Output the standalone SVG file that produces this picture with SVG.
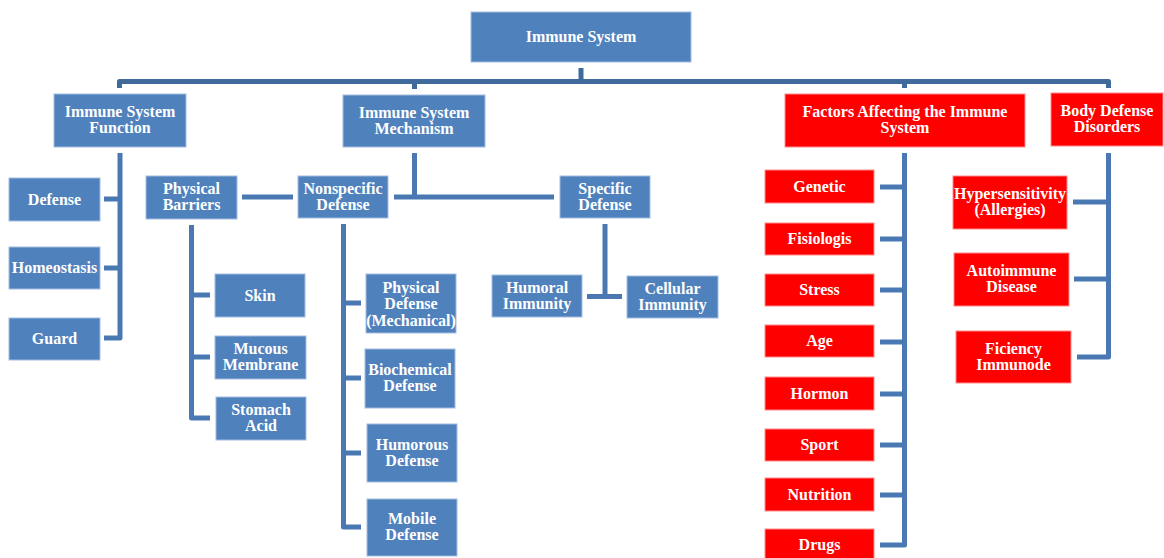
<svg xmlns="http://www.w3.org/2000/svg" width="1164" height="558" viewBox="0 0 1164 558">
<style>
.b{fill:#4f81bd;stroke:#a3bde0;stroke-width:1}
.r{fill:#ff0000;stroke:#ff8a8a;stroke-width:1}
text{font-family:"Liberation Serif","Times New Roman",serif;font-weight:bold;font-size:16px;fill:#ffffff;text-anchor:middle}
.c{fill:none;stroke:#4a78b3;stroke-width:5;stroke-linejoin:round}
.t{fill:none;stroke:#416a9c;stroke-width:5;stroke-linejoin:round}
</style>
<rect width="1164" height="558" fill="#ffffff"/>
<g id="connectors">
<path class="t" d="M581,68 V81.5 M119.5,88 V81.5 H1108.5 V88 M414.5,81.5 V89 M904.5,81.5 V88"/>
<path class="c" d="M120,153 V338 H104 M104,199 H120 M104,268 H120"/>
<path class="c" d="M414.5,153 V197 H394 M414.5,197 H554"/>
<path class="c" d="M242,197 H293"/>
<path class="c" d="M191.5,225 V418 H210 M191.5,295 H210 M191.5,357 H210"/>
<path class="c" d="M343.5,224 V527 H361 M343.5,303 H361 M343.5,378 H361 M343.5,453 H361"/>
<path class="c" d="M605,224 V296.5 M587,296.5 H622"/>
<path class="c" d="M904.5,153 V545 H880 M880,187 H904.5 M880,239 H904.5 M880,290 H904.5 M880,342 H904.5 M880,394 H904.5 M880,445 H904.5 M880,495 H904.5"/>
<path class="c" d="M1108.5,153 V357 H1077 M1073,202 H1108.5 M1074,279 H1108.5"/>
</g>
<g id="n-immune"><rect class="b" x="471" y="12" width="220" height="50"/><text x="581" y="42">Immune System</text></g>
<g id="n-function"><rect class="b" x="54" y="94" width="132" height="53"/><text x="120" y="117">Immune System</text><text x="120" y="133">Function</text></g>
<g id="n-mechanism"><rect class="b" x="343" y="95" width="142" height="52"/><text x="414" y="117.5">Immune System</text><text x="414" y="133.5">Mechanism</text></g>
<g id="n-factors"><rect class="r" x="785" y="94" width="240" height="53"/><text x="905" y="117">Factors Affecting the Immune</text><text x="905" y="133">System</text></g>
<g id="n-disorders"><rect class="r" x="1051" y="93" width="112" height="53"/><text x="1107" y="116">Body Defense</text><text x="1107" y="132">Disorders</text></g>
<g id="n-defense"><rect class="b" x="9" y="178" width="91" height="43"/><text x="54.5" y="204.5">Defense</text></g>
<g id="n-homeostasis"><rect class="b" x="9" y="247" width="91" height="42"/><text x="54.5" y="273">Homeostasis</text></g>
<g id="n-guard"><rect class="b" x="9" y="318" width="91" height="42"/><text x="54.5" y="344">Guard</text></g>
<g id="n-physbarriers"><rect class="b" x="146" y="176" width="91" height="43"/><text x="191.5" y="194">Physical</text><text x="191.5" y="210">Barriers</text></g>
<g id="n-nonspecific"><rect class="b" x="298" y="176" width="90" height="42"/><text x="343" y="193.5">Nonspecific</text><text x="343" y="209.5">Defense</text></g>
<g id="n-specific"><rect class="b" x="560" y="176" width="90" height="42"/><text x="605" y="193.5">Specific</text><text x="605" y="209.5">Defense</text></g>
<g id="n-skin"><rect class="b" x="215" y="274" width="90" height="43"/><text x="260" y="300.5">Skin</text></g>
<g id="n-mucous"><rect class="b" x="215" y="336" width="91" height="43"/><text x="260.5" y="354">Mucous</text><text x="260.5" y="370">Membrane</text></g>
<g id="n-stomach"><rect class="b" x="216" y="397" width="90" height="43"/><text x="261" y="415">Stomach</text><text x="261" y="431">Acid</text></g>
<g id="n-physdef"><rect class="b" x="366" y="274" width="90" height="59"/><text x="411" y="292.5">Physical</text><text x="411" y="309">Defense</text><text x="411" y="325.5">(Mechanical)</text></g>
<g id="n-biochem"><rect class="b" x="365" y="349" width="90" height="59"/><text x="410" y="375">Biochemical</text><text x="410" y="391">Defense</text></g>
<g id="n-humorous"><rect class="b" x="367" y="424" width="90" height="58"/><text x="412" y="449.5">Humorous</text><text x="412" y="465.5">Defense</text></g>
<g id="n-mobile"><rect class="b" x="367" y="499" width="90" height="57"/><text x="412" y="524">Mobile</text><text x="412" y="540">Defense</text></g>
<g id="n-humoral"><rect class="b" x="492" y="275" width="90" height="42"/><text x="537" y="292.5">Humoral</text><text x="537" y="308.5">Immunity</text></g>
<g id="n-cellular"><rect class="b" x="627" y="276" width="91" height="42"/><text x="672.5" y="293.5">Cellular</text><text x="672.5" y="309.5">Immunity</text></g>
<g id="n-genetic"><rect class="r" x="765" y="170" width="109" height="33"/><text x="819.5" y="191.5">Genetic</text></g>
<g id="n-fisiologis"><rect class="r" x="765" y="223" width="109" height="32"/><text x="819.5" y="244">Fisiologis</text></g>
<g id="n-stress"><rect class="r" x="765" y="274" width="109" height="32"/><text x="819.5" y="295">Stress</text></g>
<g id="n-age"><rect class="r" x="765" y="325" width="109" height="32"/><text x="819.5" y="346">Age</text></g>
<g id="n-hormon"><rect class="r" x="765" y="377" width="109" height="33"/><text x="819.5" y="398.5">Hormon</text></g>
<g id="n-sport"><rect class="r" x="765" y="429" width="109" height="32"/><text x="819.5" y="450">Sport</text></g>
<g id="n-nutrition"><rect class="r" x="765" y="478" width="109" height="33"/><text x="819.5" y="499.5">Nutrition</text></g>
<g id="n-drugs"><rect class="r" x="765" y="529" width="109" height="33"/><text x="819.5" y="550">Drugs</text></g>
<g id="n-hyper"><rect class="r" x="953" y="176" width="114" height="53"/><text x="1010" y="199">Hypersensitivity</text><text x="1010" y="215">(Allergies)</text></g>
<g id="n-autoimmune"><rect class="r" x="954" y="253" width="115" height="53"/><text x="1011.5" y="276">Autoimmune</text><text x="1011.5" y="292">Disease</text></g>
<g id="n-ficiency"><rect class="r" x="956" y="331" width="115" height="52"/><text x="1013.5" y="353.5">Ficiency</text><text x="1013.5" y="369.5">Immunode</text></g>
</svg>
